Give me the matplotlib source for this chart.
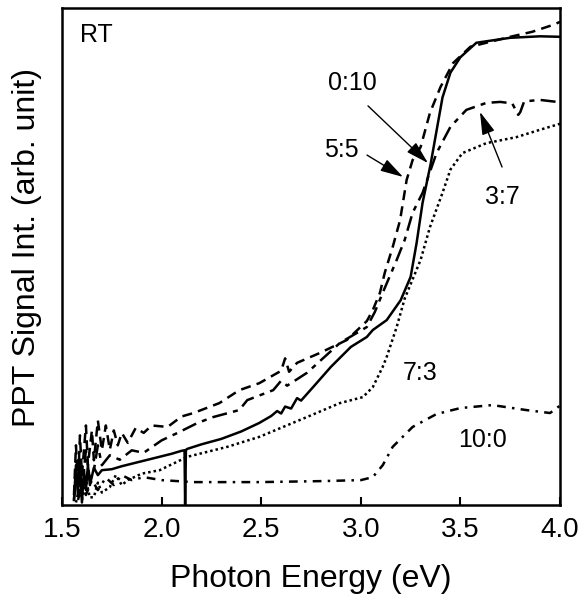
import matplotlib
matplotlib.use('Agg')
import matplotlib.pyplot as plt

plt.rcParams['font.family'] = ['Liberation Sans', 'DejaVu Sans']

# photon energy (eV) / signal (arb. unit, 0 = bottom of frame, 100 = top)
e_0_10 = [1.56, 1.57, 1.58, 1.59, 1.60, 1.61, 1.62, 1.63, 1.64, 1.66, 1.68, 1.70, 1.75, 1.80,
          1.85, 1.90, 1.99, 2.05, 2.10, 2.115, 2.118, 2.122, 2.13, 2.20, 2.30, 2.40, 2.49, 2.55,
          2.58, 2.60, 2.62, 2.65, 2.68, 2.70, 2.76, 2.85, 2.95, 3.03, 3.06, 3.13, 3.20, 3.25,
          3.28, 3.31, 3.35, 3.41, 3.45, 3.50, 3.58, 3.75, 3.90, 4.00]
s_0_10 = [1, 8, 2, 9, 0.5, 7, 3, 8, 4, 7.5, 6, 7, 7.2, 7.8,
          8.3, 8.8, 9.7, 10.3, 10.9, 11.0, 0, 11.1, 11.3, 12.2, 13.3, 14.8, 16.5, 17.9,
          18.9, 18.4, 19.8, 19.4, 21.5, 21.0, 23.7, 27.8, 31.8, 33.8, 35.2, 37.2, 41.2, 45.9,
          52.7, 60.8, 68.5, 82.0, 87.0, 90.1, 93.0, 94.0, 94.3, 94.2]

e_5_5 = [1.56, 1.57, 1.58, 1.59, 1.60, 1.62, 1.63, 1.65, 1.66, 1.68, 1.70, 1.72, 1.74, 1.76,
         1.78, 1.80, 1.83, 1.87, 1.91, 1.95, 2.03, 2.10, 2.16, 2.29, 2.39, 2.49, 2.60, 2.62,
         2.64, 2.68, 2.795, 2.93, 3.03, 3.06, 3.096, 3.12, 3.16, 3.197, 3.23, 3.26, 3.30, 3.347,
         3.40, 3.463, 3.55, 3.75, 3.86, 3.965, 4.00]
s_5_5 = [2, 12, 4, 14, 6, 16, 8, 15, 9, 17, 11, 16, 11.1, 15,
         12, 14.5, 12.5, 15.5, 14.5, 16, 15.7, 17.8, 18.5, 20.5, 23.1, 24.5, 27.0, 29.5,
         26.8, 28.6, 30.6, 33.2, 37.0, 39.2, 42.7, 46.7, 51.9, 57.3, 65.4, 69.4, 72.0, 78.9,
         84.1, 88.9, 92.2, 94.2, 95.2, 96.6, 97.2]

e_3_7 = [1.56, 1.58, 1.60, 1.62, 1.64, 1.66, 1.68, 1.70, 1.74, 1.79, 1.85, 1.91, 2.00, 2.08,
         2.18, 2.26, 2.39, 2.43, 2.56, 2.60, 2.63, 2.73, 2.895, 3.03, 3.07, 3.11, 3.18, 3.22,
         3.26, 3.31, 3.38, 3.45, 3.53, 3.63, 3.70, 3.76, 3.79, 3.80, 3.82, 3.90, 3.985, 4.00]
s_3_7 = [1, 9, 3, 11, 5, 7.0, 12, 8, 10, 9.1, 11, 10.5, 13, 14.5,
         16.5, 17.7, 19.1, 21.1, 23.1, 25.0, 24.0, 26.6, 32.6, 35.8, 38.8, 42.7, 49.3, 53.3,
         58.8, 62.8, 70.8, 76.1, 79.5, 80.9, 81.1, 80.8, 78.5, 79.0, 81.2, 81.5, 81.1, 81.0]

e_7_3 = [1.57, 1.59, 1.60, 1.62, 1.64, 1.66, 1.68, 1.70, 1.74, 1.77, 1.80, 1.83, 1.90, 1.99,
         2.13, 2.33, 2.49, 2.73, 2.895, 3.01, 3.06, 3.11, 3.13, 3.18, 3.22, 3.30, 3.347, 3.41,
         3.45, 3.51, 3.63, 3.78, 3.90, 4.00]
s_7_3 = [0.5, 4, 1, 5, 1.5, 1.6, 4.5, 2.5, 3.6, 6, 4.0, 5.0, 6.3, 7.0,
         9.7, 11.7, 13.7, 17.7, 20.5, 21.7, 23.7, 27.8, 29.8, 35.8, 41.5, 49.3, 55.9, 62.8,
         67.5, 70.8, 72.8, 74.0, 75.5, 76.7]

e_10_0 = [1.58, 1.60, 1.62, 1.65, 1.68, 1.72, 1.76, 1.80, 1.85, 1.91, 2.00, 2.16, 2.49, 2.80,
          3.00, 3.06, 3.11, 3.16, 3.26, 3.38, 3.50, 3.66, 3.83, 3.95, 3.99, 4.00]
s_10_0 = [1, 4, 2, 5, 3, 5.5, 4, 6, 5, 5.6, 5.0, 4.6, 4.6, 4.8,
          5.0, 5.6, 8.0, 11.7, 15.7, 18.3, 19.5, 20.1, 19.1, 18.5, 19.7, 20.0]

fig = plt.figure(figsize=(5.78, 5.95), dpi=100)
ax = fig.add_axes([0.1073, 0.1513, 0.8616, 0.8353])

lw = 1.8
ax.plot(e_0_10, s_0_10, color='black', lw=lw, linestyle='-')
ax.plot(e_5_5, s_5_5, color='black', lw=lw, linestyle=(0, (4, 2.5)))
ax.plot(e_3_7, s_3_7, color='black', lw=lw, linestyle=(0, (6, 2.5, 2, 2.5)))
ax.plot(e_7_3, s_7_3, color='black', lw=lw, linestyle=(0, (1, 1.2)))
ax.plot(e_10_0, s_10_0, color='black', lw=lw, linestyle=(0, (3.5, 2.5, 1, 2.5)))

# labels
fs = 18
ax.text(1.59, 94.5, 'RT', fontsize=fs, ha='left', va='center')
ax.text(2.96, 84.9, '0:10', fontsize=fs, ha='center', va='center')
ax.text(2.90, 71.4, '5:5', fontsize=fs, ha='center', va='center')
ax.text(3.71, 62.0, '3:7', fontsize=fs, ha='center', va='center')
ax.text(3.30, 26.6, '7:3', fontsize=fs, ha='center', va='center')
ax.text(3.61, 13.1, '10:0', fontsize=fs, ha='center', va='center')

arr = dict(arrowstyle='-|>,head_length=0.7,head_width=0.2', color='black', lw=1.0,
           mutation_scale=20, shrinkA=0, shrinkB=0)
ax.annotate('', xy=(3.337, 68.8), xytext=(3.036, 80.3), arrowprops=arr)
ax.annotate('', xy=(3.212, 66.0), xytext=(3.031, 70.4), arrowprops=arr)
ax.annotate('', xy=(3.598, 79.1), xytext=(3.709, 68.0), arrowprops=arr)

ax.set_xlim(1.5, 4.0)
ax.set_ylim(0, 100)
ax.set_xticks([1.5, 2.0, 2.5, 3.0, 3.5, 4.0])
ax.set_xticklabels(['1.5', '2.0', '2.5', '3.0', '3.5', '4.0'])
ax.set_yticks([])
ax.tick_params(axis='x', direction='in', length=6, width=1.5, labelsize=20, pad=9,
               top=False)
for sp in ax.spines.values():
    sp.set_linewidth(1.8)

ax.set_xlabel('Photon Energy (eV)', fontsize=23, labelpad=15)
ax.set_ylabel('PPT Signal Int. (arb. unit)', fontsize=23)
ax.yaxis.set_label_coords(-0.040, 0.518)

fig.savefig('out.png', dpi=100)
